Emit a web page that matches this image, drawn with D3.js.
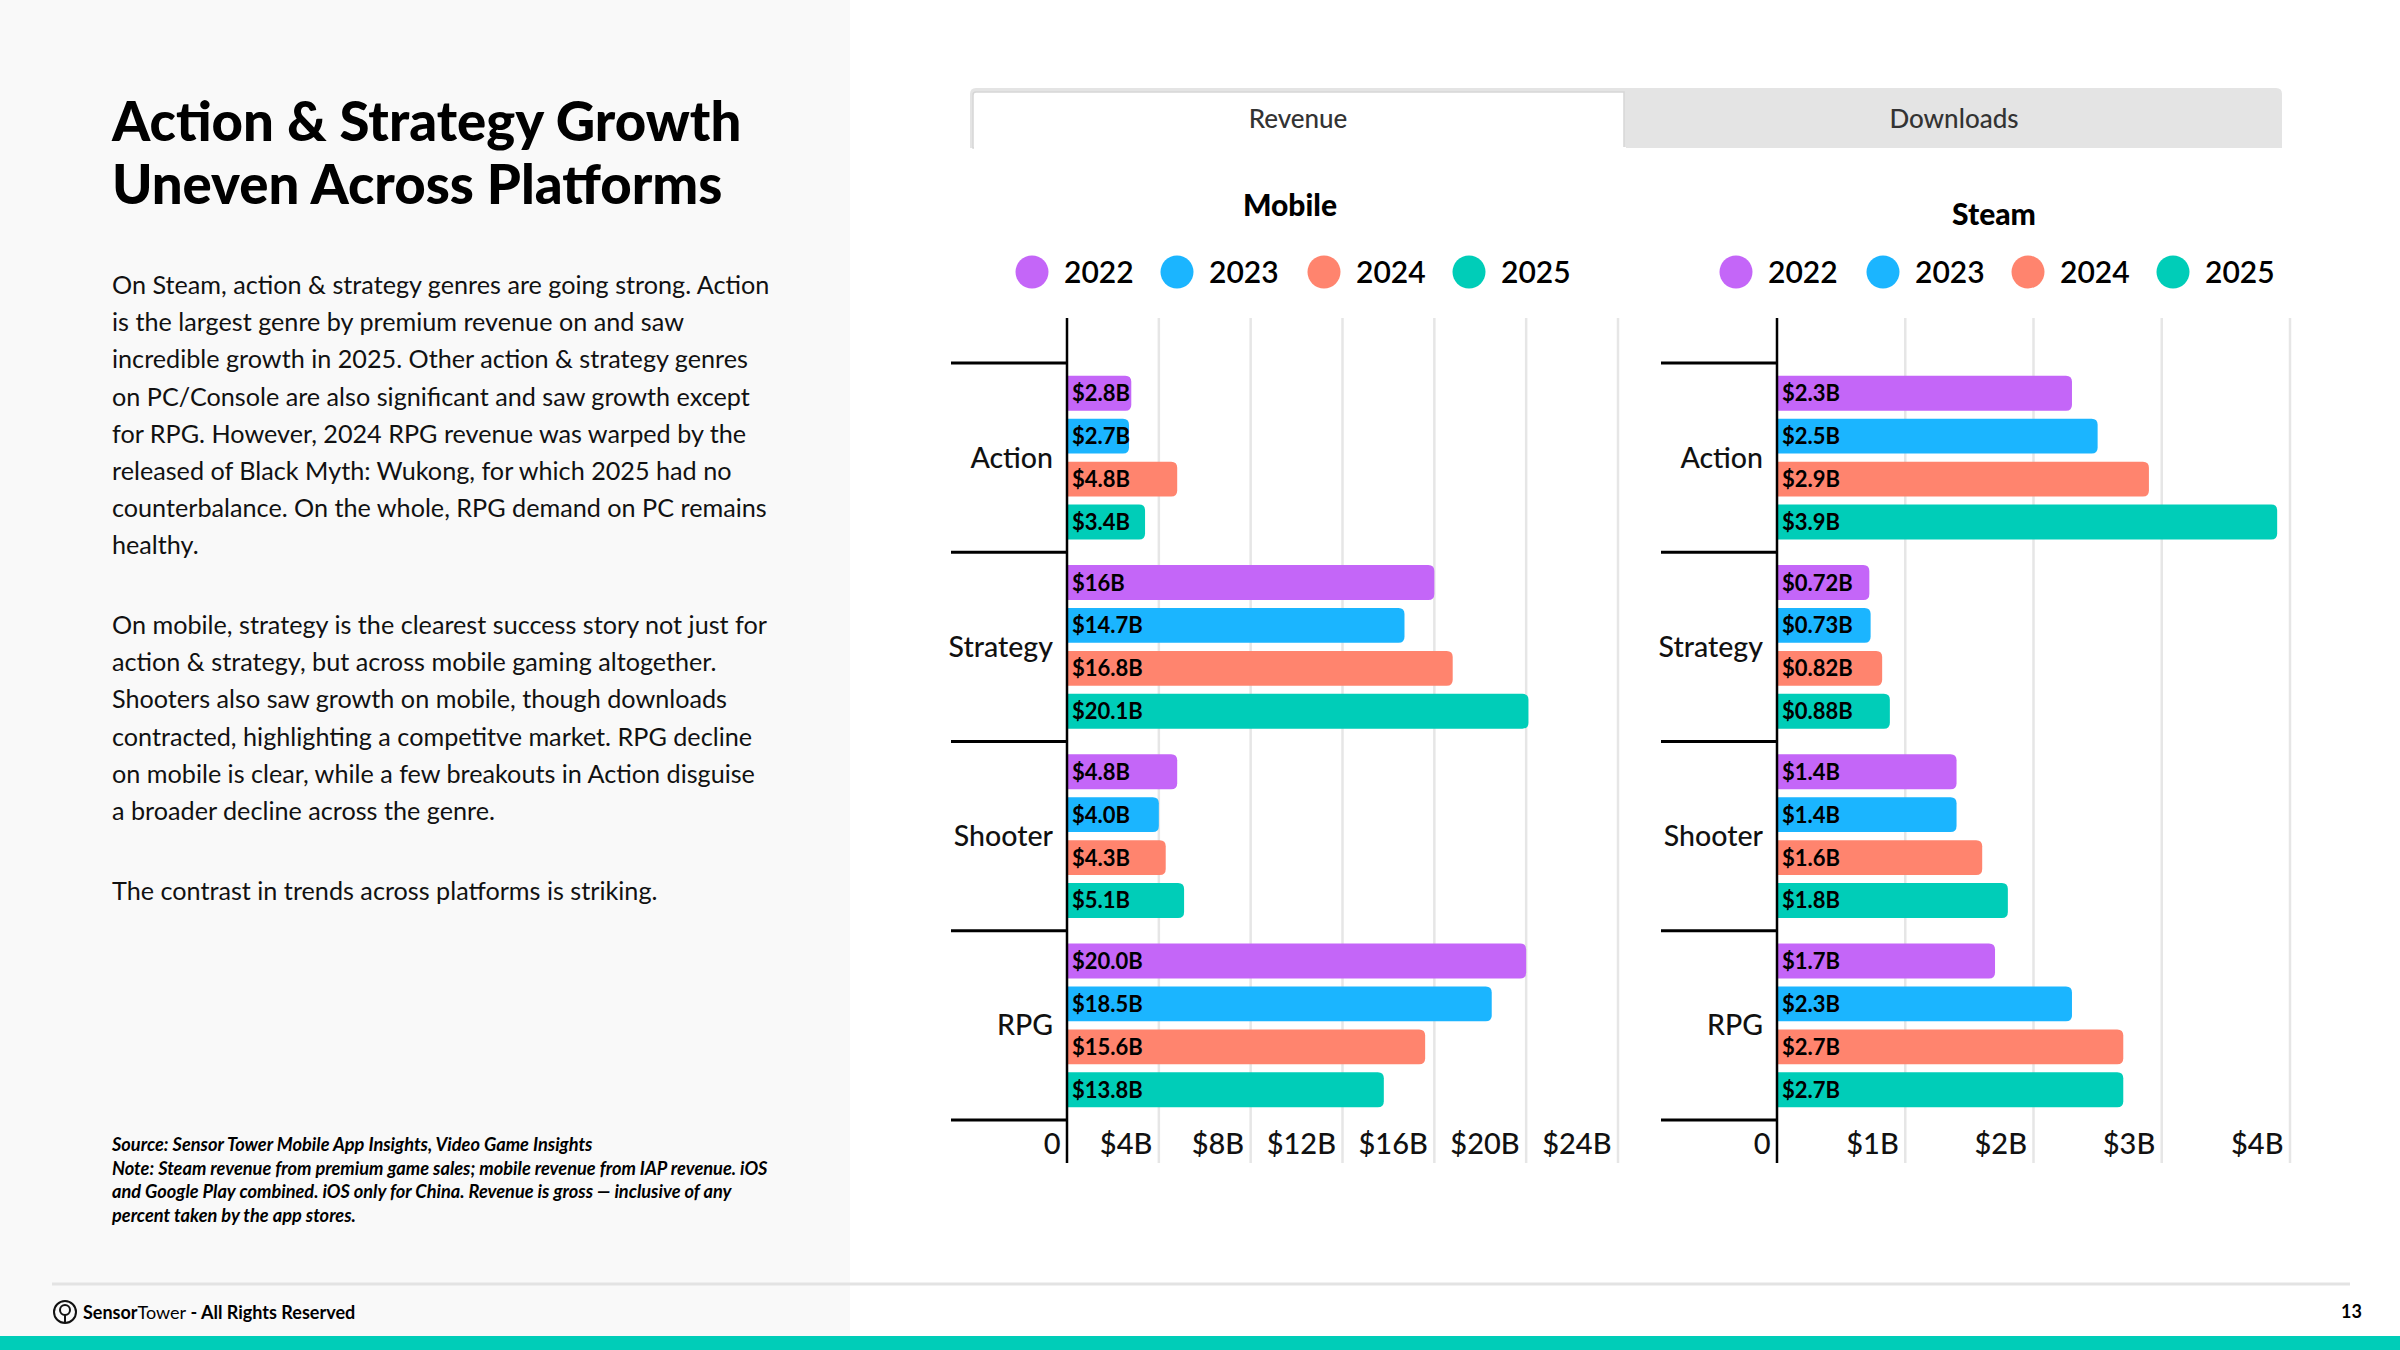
<!DOCTYPE html>
<html><head><meta charset="utf-8">
<script src="https://cdn.jsdelivr.net/npm/d3@7"></script>
<style>
html,body{margin:0;padding:0;background:#fff;}
svg{display:block;}
text{font-family:Lato,"Noto Sans",sans-serif;}
</style></head>
<body>
<svg id="c" width="2400" height="1350" viewBox="0 0 2400 1350"></svg>
<script>
// ---------- data ----------
const categories = ["Action", "Strategy", "Shooter", "RPG"];
const years = ["2022", "2023", "2024", "2025"];
const yearColors = ["#C466F8", "#1BB5FF", "#FF846E", "#00CDB8"];

const mobile2022 = [2.8, 16, 4.8, 20.0];
const mobile2023 = [2.7, 14.7, 4.0, 18.5];
const mobile2024 = [4.8, 16.8, 4.3, 15.6];
const mobile2025 = [3.4, 20.1, 5.1, 13.8];
const mobileLabels2022 = ["$2.8B", "$16B", "$4.8B", "$20.0B"];
const mobileLabels2023 = ["$2.7B", "$14.7B", "$4.0B", "$18.5B"];
const mobileLabels2024 = ["$4.8B", "$16.8B", "$4.3B", "$15.6B"];
const mobileLabels2025 = ["$3.4B", "$20.1B", "$5.1B", "$13.8B"];
const mobileTicks = [0, 4, 8, 12, 16, 20, 24];
const mobileTickLabels = ["0", "$4B", "$8B", "$12B", "$16B", "$20B", "$24B"];

const steam2022 = [2.3, 0.72, 1.4, 1.7];
const steam2023 = [2.5, 0.73, 1.4, 2.3];
const steam2024 = [2.9, 0.82, 1.6, 2.7];
const steam2025 = [3.9, 0.88, 1.8, 2.7];
const steamLabels2022 = ["$2.3B", "$0.72B", "$1.4B", "$1.7B"];
const steamLabels2023 = ["$2.5B", "$0.73B", "$1.4B", "$2.3B"];
const steamLabels2024 = ["$2.9B", "$0.82B", "$1.6B", "$2.7B"];
const steamLabels2025 = ["$3.9B", "$0.88B", "$1.8B", "$2.7B"];
const steamTicks = [0, 1, 2, 3, 4];
const steamTickLabels = ["0", "$1B", "$2B", "$3B", "$4B"];

const titleLines = ["Action & Strategy Growth", "Uneven Across Platforms"];
const para1 = [
  "On Steam, action & strategy genres are going strong. Action",
  "is the largest genre by premium revenue on and saw",
  "incredible growth in 2025. Other action & strategy genres",
  "on PC/Console are also significant and saw growth except",
  "for RPG. However, 2024 RPG revenue was warped by the",
  "released of Black Myth: Wukong, for which 2025 had no",
  "counterbalance. On the whole, RPG demand on PC remains",
  "healthy."
];
const para2 = [
  "On mobile, strategy is the clearest success story not just for",
  "action & strategy, but across mobile gaming altogether.",
  "Shooters also saw growth on mobile, though downloads",
  "contracted, highlighting a competitve market. RPG decline",
  "on mobile is clear, while a few breakouts in Action disguise",
  "a broader decline across the genre."
];
const para3 = ["The contrast in trends across platforms is striking."];
const noteLines = [
  "Source: Sensor Tower Mobile App Insights, Video Game Insights",
  "Note: Steam revenue from premium game sales; mobile revenue from IAP revenue. iOS",
  "and Google Play combined. iOS only for China. Revenue is gross — inclusive of any",
  "percent taken by the app stores."
];
const tabs = ["Revenue", "Downloads"];

// ---------- page ----------
const svg = d3.select("#c");
svg.append("rect").attr("x", 0).attr("y", 0).attr("width", 2400).attr("height", 1350).attr("fill", "#fff");
svg.append("rect").attr("x", 0).attr("y", 0).attr("width", 850).attr("height", 1336).attr("fill", "#f9f9f9");

// title
const tt = svg.append("text").attr("x", 112).attr("font-size", 54.5).attr("font-weight", 900).attr("fill", "#000");
titleLines.forEach((l, i) => tt.append("tspan").attr("x", 112).attr("y", 141 + i * 63).text(l));

function block(lines, y0, lh, fs, opts = {}) {
  const t = svg.append("text").attr("font-size", fs).attr("fill", opts.fill || "#111")
    .attr("font-weight", opts.weight || 400).attr("font-style", opts.style || "normal");
  lines.forEach((l, i) => {
    t.append("tspan").attr("x", 112).attr("y", y0 + i * lh).text(l);
  });
  return t;
}
block(para1, 294, 37.2, 25.2);
block(para2, 634, 37.2, 25.2);
block(para3, 900, 37.2, 25.2);
block(noteLines, 1151, 23.5, 18.2, { weight: 700, style: "italic", fill: "#000" });

// footer
svg.append("line").attr("x1", 52).attr("x2", 2350).attr("y1", 1284).attr("y2", 1284).attr("stroke", "#e3e3e3").attr("stroke-width", 3);
const logo = svg.append("g").attr("transform", "translate(65,1312)");
logo.append("circle").attr("r", 11).attr("fill", "none").attr("stroke", "#111").attr("stroke-width", 2);
logo.append("circle").attr("r", 5).attr("cy", -2).attr("fill", "none").attr("stroke", "#111").attr("stroke-width", 2);
logo.append("line").attr("x1", 0).attr("x2", 0).attr("y1", 3).attr("y2", 11).attr("stroke", "#111").attr("stroke-width", 2);
const ft = svg.append("text").attr("x", 83).attr("y", 1319).attr("font-size", 18).attr("fill", "#000");
ft.append("tspan").attr("font-weight", 700).text("Sensor");
ft.append("tspan").attr("font-weight", 400).text("Tower");
ft.append("tspan").attr("font-weight", 700).text(" - All Rights Reserved");
svg.append("text").attr("x", 2362).attr("y", 1318).attr("text-anchor", "end").attr("font-size", 18).attr("font-weight", 700).text("13");
svg.append("rect").attr("x", 0).attr("y", 1336).attr("width", 2400).attr("height", 14).attr("fill", "#00CDB8");

// tabs
svg.append("path").attr("d", "M970,148 L970,94 Q970,88 976,88 L2276,88 Q2282,88 2282,94 L2282,148 Z").attr("fill", "#e4e4e4");
svg.append("path").attr("d", "M973,148 L973,95 Q973,92 976,92 L1624,92 L1624,148 Z").attr("fill", "#fff")
  .attr("stroke", "#d6d6d6").attr("stroke-width", 1.5);
svg.append("rect").attr("x", 974).attr("y", 147).attr("width", 652).attr("height", 3).attr("fill", "#fff");
const tabX = d3.scaleBand().domain(tabs).range([970, 2282]);
svg.selectAll(".tab").data(tabs).join("text").attr("class", "tab")
  .attr("x", d => tabX(d) + tabX.bandwidth() / 2).attr("y", 128).attr("text-anchor", "middle")
  .attr("font-size", 26).attr("font-weight", 500).attr("fill", "#333").text(d => d);

// ---------- charts ----------
const yBand = d3.scaleBand().domain(categories).range([363, 1120]);
const yInner = d3.scaleBand().domain(years).range([0, yBand.bandwidth()]).paddingInner(0.19).paddingOuter(0.3);
const color = d3.scaleOrdinal().domain(years).range(yearColors);

function barPath(x0, x1, y, h, r) {
  r = Math.min(r, (x1 - x0), h / 2);
  return `M${x0},${y}H${x1 - r}Q${x1},${y} ${x1},${y + r}V${y + h - r}Q${x1},${y + h} ${x1 - r},${y + h}H${x0}Z`;
}

function drawChart(cfg) {
  const g = svg.append("g");
  const x = d3.scaleLinear().domain([0, cfg.ticks[cfg.ticks.length - 1]]).range([cfg.x0, cfg.x1]);
  const top = 318, bottom = 1163;

  g.append("text").attr("x", cfg.titleX).attr("y", cfg.titleY).attr("text-anchor", "middle")
    .attr("font-size", 30).attr("font-weight", 900).attr("fill", "#000").text(cfg.title);

  const lg = g.selectAll(".lg").data(years).join("g").attr("class", "lg")
    .attr("transform", (d, i) => `translate(${cfg.legendX[i]},272)`);
  lg.append("circle").attr("r", 16.5).attr("fill", d => color(d));
  lg.append("text").attr("x", 32).attr("y", 11).attr("font-size", 30).attr("font-weight", 600).attr("fill", "#000").text(d => d);

  g.selectAll(".grid").data(cfg.ticks.slice(1)).join("line").attr("class", "grid")
    .attr("x1", d => x(d)).attr("x2", d => x(d)).attr("y1", top).attr("y2", bottom)
    .attr("stroke", "#e6e6e6").attr("stroke-width", 2.5);

  const ax = d3.axisBottom(x).tickValues(cfg.ticks).tickSize(0).tickFormat((d, i) => cfg.tickLabels[i]);
  const axg = g.append("g").attr("transform", `translate(0,${1154})`).call(ax);
  axg.select(".domain").remove();
  axg.selectAll("text").attr("text-anchor", "end").attr("dx", -7).attr("y", 0).attr("dy", 0)
    .attr("font-size", 29).attr("font-family", "Lato, sans-serif").attr("font-weight", 500).attr("fill", "#111");

  const bounds = categories.map(c => yBand(c)).concat([yBand(categories[categories.length - 1]) + yBand.bandwidth()]);
  g.selectAll(".sep").data(bounds).join("line").attr("class", "sep")
    .attr("x1", cfg.x0 - 116).attr("x2", cfg.x0).attr("y1", d => d).attr("y2", d => d)
    .attr("stroke", "#000").attr("stroke-width", 3);

  g.selectAll(".cat").data(categories).join("text").attr("class", "cat")
    .attr("x", cfg.x0 - 14).attr("y", d => yBand(d) + yBand.bandwidth() / 2 + 10).attr("text-anchor", "end")
    .attr("font-size", 28.5).attr("font-weight", 500).attr("fill", "#111").text(d => d);

  const rows = [];
  categories.forEach((c, ci) => years.forEach((yr, yi) => rows.push({ c, yr, v: cfg.values[yi][ci], label: cfg.labels[yi][ci] })));
  const bh = yInner.bandwidth();
  g.selectAll(".bar").data(rows).join("path").attr("class", "bar")
    .attr("d", d => barPath(x(0), x(d.v), yBand(d.c) + yInner(d.yr), bh, 6))
    .attr("fill", d => color(d.yr));
  g.selectAll(".bl").data(rows).join("text").attr("class", "bl")
    .attr("x", x(0) + 5).attr("y", d => yBand(d.c) + yInner(d.yr) + bh / 2 + 8)
    .attr("font-size", 22).attr("font-weight", 700).attr("fill", "#000").text(d => d.label);

  g.append("line").attr("x1", cfg.x0).attr("x2", cfg.x0).attr("y1", top).attr("y2", bottom)
    .attr("stroke", "#000").attr("stroke-width", 2.5);
}

drawChart({
  title: "Mobile", titleX: 1290, titleY: 216,
  legendX: [1032, 1177, 1324, 1469],
  x0: 1067, x1: 1618,
  ticks: mobileTicks, tickLabels: mobileTickLabels,
  values: [mobile2022, mobile2023, mobile2024, mobile2025],
  labels: [mobileLabels2022, mobileLabels2023, mobileLabels2024, mobileLabels2025]
});
drawChart({
  title: "Steam", titleX: 1994, titleY: 225,
  legendX: [1736, 1883, 2028, 2173],
  x0: 1777, x1: 2290,
  ticks: steamTicks, tickLabels: steamTickLabels,
  values: [steam2022, steam2023, steam2024, steam2025],
  labels: [steamLabels2022, steamLabels2023, steamLabels2024, steamLabels2025]
});
</script>
</body></html>
